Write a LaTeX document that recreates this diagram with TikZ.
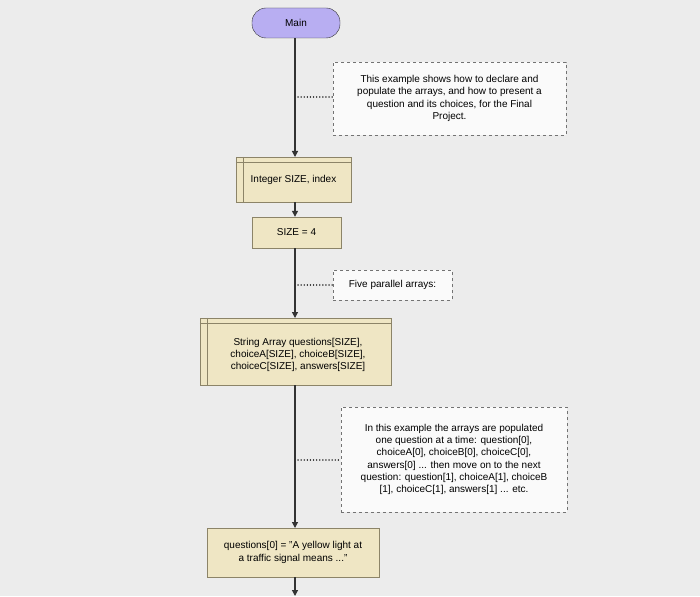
\documentclass[tikz,border=0pt]{standalone}
\usepackage{fontspec}
\setmainfont{Liberation Sans}
\usetikzlibrary{arrows.meta}
\definecolor{boxfill}{HTML}{EFE6C4}
\definecolor{boxline}{HTML}{8C8468}
\definecolor{mainfill}{HTML}{B8AEF2}
\definecolor{bg}{HTML}{ECECEC}
\begin{document}
\begin{tikzpicture}[x=1pt,y=-1pt,
  flow/.style={draw=black!80,line width=1.2pt,-{Triangle[length=6pt,width=6pt]}},
  dline/.style={draw=black!80,line width=1.4pt,line cap=round,dash pattern=on 0.1pt off 3pt},
  comment/.style={draw=black!55,dashed,fill=white!96!gray,inner sep=0pt,align=center,font=\fontsize{10}{12.3}\selectfont},
  box/.style={draw=boxline,fill=boxfill,inner sep=0pt,align=center,font=\fontsize{10}{12.3}\selectfont},
  txt/.style={font=\fontsize{10}{12.3}\selectfont,align=center}]
\fill[bg] (0,0) rectangle (700,596);
\useasboundingbox (0,0) rectangle (700,596);
% Main
\node[draw=black!80,fill=mainfill,rounded corners=14pt,minimum width=88pt,minimum height=30pt,font=\fontsize{10}{12}\selectfont] (main) at (296,23) {Main};
% declare 1
\node[box,minimum width=115pt,minimum height=45pt] (decl1) at (293.5,179.5) {Integer SIZE, index};
\draw[boxline] ([yshift=-5pt]decl1.north west) -- ([yshift=-5pt]decl1.north east);
\draw[boxline] ([xshift=7pt]decl1.north west) -- ([xshift=7pt]decl1.south west);
\node[box,minimum width=89pt,minimum height=31pt] (assign) at (296.5,232.5) {SIZE = 4};
\node[box,minimum width=191pt,minimum height=67pt] (decl2) at (295.5,351.5) {};
\draw[boxline] ([yshift=-5pt]decl2.north west) -- ([yshift=-5pt]decl2.north east);
\draw[boxline] ([xshift=7pt]decl2.north west) -- ([xshift=7pt]decl2.south west);
\node[txt] at (298,355) {String Array questions[SIZE],\\choiceA[SIZE], choiceB[SIZE],\\choiceC[SIZE], answers[SIZE]};
\node[box,minimum width=172pt,minimum height=49pt] (assign2) at (293,552.5) {questions[0] = "A yellow light at\\a traffic signal means ..."};
% comments
\node[comment,minimum width=233pt,minimum height=73pt] (c1) at (449.5,98.5) {This example shows how to declare and\\populate the arrays, and how to present a\\question and its choices, for the Final\\Project.};
\node[comment,minimum width=119pt,minimum height=30pt] (c2) at (392.5,285) {Five parallel arrays:};
\node[comment,minimum width=226pt,minimum height=105pt] (c3) at (454,459.5) {In this example the arrays are populated\\one question at a time: question[0],\\choiceA[0], choiceB[0], choiceC[0],\\answers[0] ... then move on to the next\\question: question[1], choiceA[1], choiceB\\{}[1], choiceC[1], answers[1] ... etc.};
% flow
\draw[flow] (main.south -| 295,0) -- (295,157);
\draw[flow] (295,202) -- (assign.north -| 295,0);
\draw[flow] (assign.south -| 295,0) -- (295,318);
\draw[flow] (295,385) -- (295,528);
\coordinate (end) at (295,596);
\draw[flow] (295,577) -- (end);
% dotted links
\draw[dline] (298,97) -- (c1.west |- 0,97);
\draw[dline] (298,285) -- (c2.west);
\draw[dline] (298,460) -- (c3.west |- 0,460);
\end{tikzpicture}
\end{document}
